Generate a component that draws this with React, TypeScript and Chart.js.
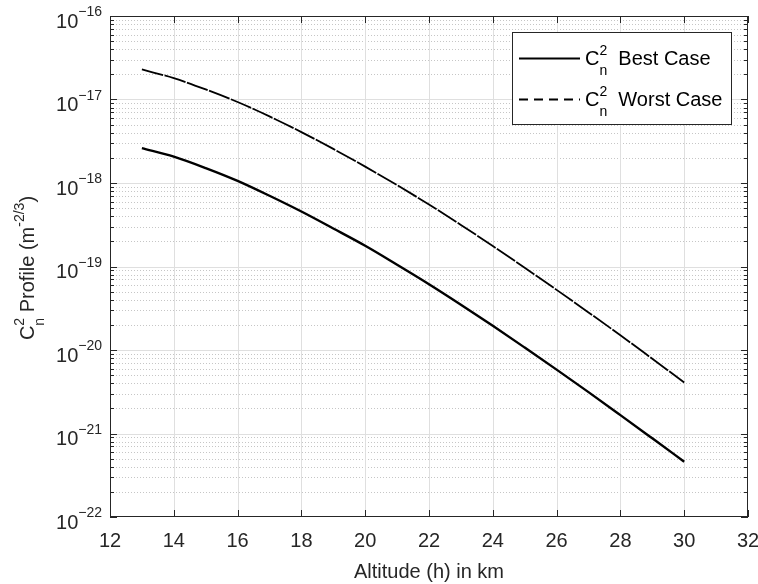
import React, { useEffect, useRef } from 'react';
import { Chart, registerables } from 'chart.js';

Chart.register(...registerables);

// ---- data ----
const altitudeKm = [13, 14, 15, 16, 17, 18, 19, 20, 21, 22, 23, 24, 25, 26, 27, 28, 29, 30];
const bestCase = [
  2.62e-18, 2.07e-18, 1.51e-18, 1.06e-18, 7.03e-19, 4.55e-19, 2.85e-19, 1.77e-19, 1.05e-19,
  6.14e-20, 3.49e-20, 1.95e-20, 1.07e-20, 5.82e-21, 3.13e-21, 1.66e-21, 8.75e-22, 4.6e-22,
];
const worstCase = [
  2.29e-17, 1.8e-17, 1.32e-17, 9.33e-18, 6.27e-18, 4.07e-18, 2.56e-18, 1.57e-18, 9.44e-19,
  5.52e-19, 3.15e-19, 1.76e-19, 9.66e-20, 5.25e-20, 2.82e-20, 1.5e-20, 7.85e-21, 4.09e-21,
];
const xTicks = [12, 14, 16, 18, 20, 22, 24, 26, 28, 30, 32];
const yDecades = [-22, -21, -20, -19, -18, -17, -16];
const minorMultipliers = [2, 3, 4, 5, 6, 7, 8, 9];
const xTitle = 'Altitude (h) in km';
const seriesNames = ['Best Case', 'Worst Case'];

const FONT = '"Liberation Sans", Arial, Helvetica, sans-serif';
const AXIS_COLOR = '#262626';

type Seg =
  | { text: string; size: number; dy: number }
  | { sup: string; sub: string; size: number; supDy: number; subDy: number };

function segWidth(ctx: CanvasRenderingContext2D, s: Seg): number {
  ctx.font = `${s.size}px ${FONT}`;
  if ('text' in s) return ctx.measureText(s.text).width;
  return Math.max(ctx.measureText(s.sup).width, ctx.measureText(s.sub).width);
}

function drawRich(
  ctx: CanvasRenderingContext2D,
  segs: Seg[],
  x: number,
  y: number,
  align: 'left' | 'center' | 'right'
) {
  const total = segs.reduce((w, s) => w + segWidth(ctx, s), 0);
  let cx = align === 'left' ? x : align === 'center' ? x - total / 2 : x - total;
  ctx.textAlign = 'left';
  ctx.textBaseline = 'alphabetic';
  for (const s of segs) {
    const w = segWidth(ctx, s);
    ctx.font = `${s.size}px ${FONT}`;
    if ('text' in s) {
      ctx.fillText(s.text, cx, y + s.dy);
    } else {
      ctx.fillText(s.sup, cx, y + s.supDy);
      ctx.fillText(s.sub, cx, y + s.subDy);
    }
    cx += w;
  }
}

const cn2 = (size: number): Seg[] => [
  { text: 'C', size, dy: 0 },
  { sup: '2', sub: 'n', size: Math.round(size * 0.7), supDy: -10, subDy: 10 },
];

const matlabAxes = {
  id: 'matlabAxes',
  beforeDraw(chart: any) {
    const { ctx, width, height } = chart;
    ctx.save();
    ctx.fillStyle = '#ffffff';
    ctx.fillRect(0, 0, width, height);
    ctx.restore();
  },
  beforeDatasetsDraw(chart: any) {
    const { ctx, chartArea: a, scales } = chart;
    const x = scales.x;
    const y = scales.y;
    ctx.save();
    ctx.lineWidth = 1;
    // minor horizontal grid (dotted)
    ctx.strokeStyle = '#c6c6c6';
    ctx.setLineDash([1, 2]);
    for (const d of yDecades.slice(0, -1)) {
      for (const m of minorMultipliers) {
        const py = Math.round(y.getPixelForValue(m * Math.pow(10, d))) + 0.5;
        ctx.beginPath();
        ctx.moveTo(a.left, py);
        ctx.lineTo(a.right, py);
        ctx.stroke();
      }
    }
    ctx.setLineDash([]);
    ctx.strokeStyle = '#dfdfdf';
    // major horizontal grid
    for (const d of yDecades.slice(1, -1)) {
      const py = Math.round(y.getPixelForValue(Math.pow(10, d))) + 0.5;
      ctx.beginPath();
      ctx.moveTo(a.left, py);
      ctx.lineTo(a.right, py);
      ctx.stroke();
    }
    // vertical grid
    for (const t of xTicks.slice(1, -1)) {
      const px = Math.round(x.getPixelForValue(t)) + 0.5;
      ctx.beginPath();
      ctx.moveTo(px, a.top);
      ctx.lineTo(px, a.bottom);
      ctx.stroke();
    }
    ctx.restore();
  },
  afterDatasetsDraw(chart: any) {
    const { ctx, chartArea: a, scales } = chart;
    const x = scales.x;
    const y = scales.y;
    ctx.save();
    ctx.strokeStyle = AXIS_COLOR;
    ctx.lineWidth = 1;
    // axes box
    ctx.strokeRect(a.left + 0.5, a.top + 0.5, a.right - a.left - 1, a.bottom - a.top - 1);
    // x ticks (inward, bottom and top)
    for (const t of xTicks) {
      const px = Math.round(x.getPixelForValue(t)) + 0.5;
      ctx.beginPath();
      ctx.moveTo(px, a.bottom);
      ctx.lineTo(px, a.bottom - 7);
      ctx.moveTo(px, a.top);
      ctx.lineTo(px, a.top + 7);
      ctx.stroke();
    }
    // y ticks (inward, left and right)
    for (const d of yDecades) {
      const py = Math.round(y.getPixelForValue(Math.pow(10, d))) + 0.5;
      ctx.beginPath();
      ctx.moveTo(a.left, py);
      ctx.lineTo(a.left + 7, py);
      ctx.moveTo(a.right, py);
      ctx.lineTo(a.right - 7, py);
      ctx.stroke();
      if (d < yDecades[yDecades.length - 1]) {
        for (const m of minorMultipliers) {
          const pm = Math.round(y.getPixelForValue(m * Math.pow(10, d))) + 0.5;
          ctx.beginPath();
          ctx.moveTo(a.left, pm);
          ctx.lineTo(a.left + 4, pm);
          ctx.moveTo(a.right, pm);
          ctx.lineTo(a.right - 4, pm);
          ctx.stroke();
        }
      }
    }
    // tick labels
    ctx.fillStyle = AXIS_COLOR;
    ctx.font = `20px ${FONT}`;
    ctx.textAlign = 'center';
    ctx.textBaseline = 'alphabetic';
    for (const t of xTicks) {
      ctx.fillText(String(t), x.getPixelForValue(t), a.bottom + 30);
    }
    for (const d of yDecades) {
      const py = y.getPixelForValue(Math.pow(10, d));
      drawRich(
        ctx,
        [
          { text: '10', size: 20, dy: 0 },
          { text: '\u2212' + String(-d), size: 14, dy: -11.5 },
        ],
        a.left - 8,
        py + 11.8,
        'right'
      );
    }
    // x title
    ctx.font = `20px ${FONT}`;
    ctx.textAlign = 'center';
    ctx.fillText(xTitle, (a.left + a.right) / 2, 578);
    // y title (rotated)
    ctx.save();
    ctx.translate(33.5, (a.top + a.bottom) / 2 + 1.5);
    ctx.rotate(-Math.PI / 2);
    drawRich(
      ctx,
      [
        ...cn2(20),
        { text: ' Profile (m', size: 20, dy: 0 },
        { text: '-2/3', size: 14, dy: -10 },
        { text: ')', size: 20, dy: 0 },
      ],
      0,
      0,
      'center'
    );
    ctx.restore();

    // legend
    ctx.fillStyle = '#ffffff';
    ctx.fillRect(512.5, 32.5, 219, 92);
    ctx.strokeStyle = AXIS_COLOR;
    ctx.lineWidth = 1;
    ctx.strokeRect(512.5, 32.5, 219, 92);
    const rows = [
      { yLine: 58.5, yText: 65, dash: [] as number[], name: seriesNames[0] },
      { yLine: 99.5, yText: 106, dash: [9, 6], name: seriesNames[1] },
    ];
    for (const r of rows) {
      ctx.strokeStyle = '#000000';
      ctx.lineWidth = 2;
      ctx.setLineDash(r.dash);
      ctx.beginPath();
      ctx.moveTo(519, r.yLine);
      ctx.lineTo(580, r.yLine);
      ctx.stroke();
      ctx.setLineDash([]);
      ctx.fillStyle = '#000000';
      drawRich(ctx, [...cn2(20), { text: '  ' + r.name, size: 20, dy: 0 }], 585, r.yText, 'left');
    }
    ctx.restore();
  },
};

export default function App() {
  const canvasRef = useRef<HTMLCanvasElement | null>(null);

  useEffect(() => {
    const canvas = canvasRef.current;
    if (!canvas) return;
    const chart = new Chart(canvas, {
      type: 'line',
      data: {
        datasets: [
          {
            label: seriesNames[0],
            data: altitudeKm.map((h, i) => ({ x: h, y: bestCase[i] })),
            borderColor: '#000000',
            borderWidth: 2.4,
            pointRadius: 0,
            cubicInterpolationMode: 'monotone',
            fill: false,
          },
          {
            label: seriesNames[1],
            data: altitudeKm.map((h, i) => ({ x: h, y: worstCase[i] })),
            borderColor: '#000000',
            borderWidth: 1.8,
            borderDash: [22, 1.5],
            pointRadius: 0,
            cubicInterpolationMode: 'monotone',
            fill: false,
          },
        ],
      },
      options: {
        animation: false,
        responsive: false,
        devicePixelRatio: 1,
        events: [],
        layout: { padding: { left: 110, right: 10, top: 16, bottom: 67 } },
        scales: {
          x: { type: 'linear', min: 12, max: 32, display: false },
          y: { type: 'logarithmic', min: 1e-22, max: 1e-16, display: false },
        },
        plugins: {
          legend: { display: false },
          tooltip: { enabled: false },
        },
      },
      plugins: [matlabAxes],
    });
    return () => chart.destroy();
  }, []);

  return (
    <div style={{ position: 'absolute', left: 0, top: 0, width: 758, height: 584, background: '#fff' }}>
      <canvas ref={canvasRef} width={758} height={584} style={{ display: 'block' }} />
    </div>
  );
}
